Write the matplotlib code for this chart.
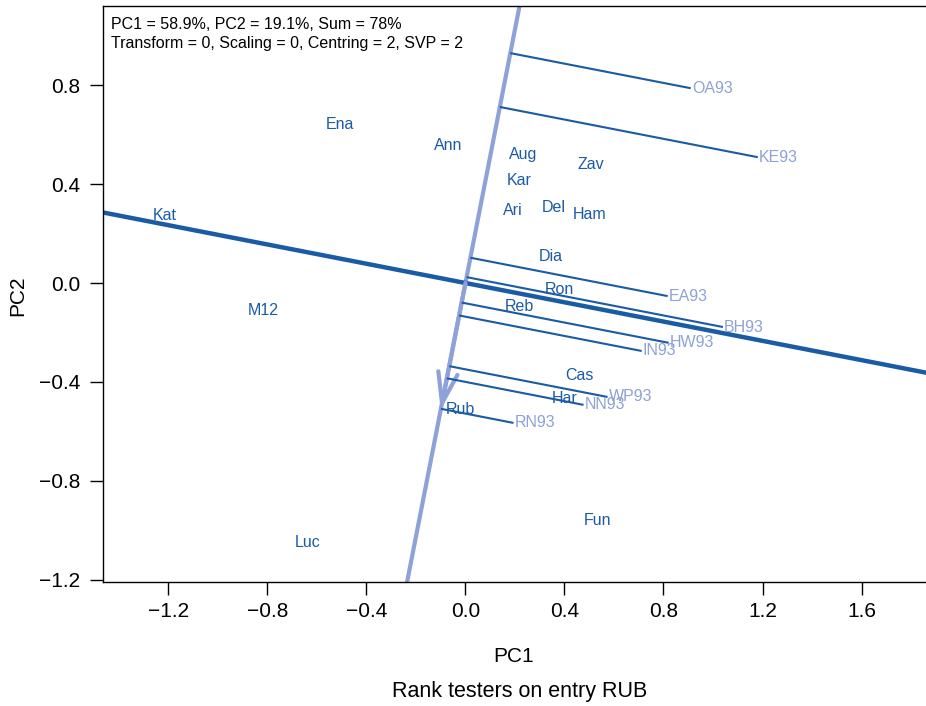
import numpy as np
import matplotlib
matplotlib.use('Agg')
import matplotlib.pyplot as plt
from matplotlib.ticker import FuncFormatter

plt.rcParams['font.family'] = ['Liberation Sans', 'DejaVu Sans']

# genotype (entry) label positions
entries = ['Ena', 'Ann', 'Aug', 'Zav', 'Kar', 'Ari', 'Del', 'Ham', 'Kat', 'M12',
           'Luc', 'Fun', 'Dia', 'Ron', 'Reb', 'Cas', 'Har', 'Rub']
entry_x = [-0.506, -0.070, 0.233, 0.506, 0.216, 0.193, 0.355, 0.503, -1.216, -0.816,
           -0.638, 0.533, 0.344, 0.380, 0.218, 0.461, 0.402, -0.020]
entry_y = [0.643, 0.558, 0.520, 0.481, 0.416, 0.292, 0.305, 0.278, 0.275, -0.113,
           -1.051, -0.962, 0.106, -0.025, -0.093, -0.375, -0.466, -0.510]

# tester (environment) vectors
testers = ['OA93', 'KE93', 'EA93', 'BH93', 'HW93', 'IN93', 'WP93', 'NN93', 'RN93']
tester_x = [0.910, 1.181, 0.817, 1.040, 0.821, 0.712, 0.574, 0.477, 0.194]
tester_y = [0.788, 0.509, -0.053, -0.178, -0.242, -0.275, -0.461, -0.493, -0.566]

# entry axis target (RUB)
rub_vec = (-0.100, -0.513)

dark = '#1a5ba6'
light = '#8ea1d8'

fig = plt.figure(figsize=(9.26, 7.06), dpi=100)
ax = fig.add_axes([0.1112, 0.1756, 0.8900, 0.8159])
ax.set_xlim(-1.4644, 1.865)
ax.set_ylim(-1.2096, 1.1206)

u = np.array(rub_vec) / np.hypot(*rub_vec)

# entry axis and its perpendicular through the origin
ax.axline((0, 0), rub_vec, color=light, lw=3, zorder=2)
ax.axline((0, 0), slope=-u[0] / u[1], color=dark, lw=3.2, zorder=2)
ax.annotate('', xy=rub_vec, xytext=(0, 0),
            arrowprops=dict(arrowstyle='->,head_length=2.2,head_width=0.7',
                            color=light, lw=3, shrinkA=0, shrinkB=0), zorder=3)

# projections of testers onto the entry axis
for name, tx, ty in zip(testers, tester_x, tester_y):
    d = tx * u[0] + ty * u[1]
    ax.plot([d * u[0], tx], [d * u[1], ty], color=dark, lw=1.5, zorder=3,
            solid_capstyle='butt')
    ax.text(tx + 0.005, ty, name, color=light, fontsize=11.5, ha='left', va='center',
            zorder=4)

for name, ex, ey in zip(entries, entry_x, entry_y):
    ax.text(ex, ey, name, color=dark, fontsize=11.5, ha='center', va='center', zorder=4)

fmt = FuncFormatter(lambda v, p: f'{v:.1f}'.replace('-', '\u2212'))
ax.set_xticks([-1.2, -0.8, -0.4, 0.0, 0.4, 0.8, 1.2, 1.6])
ax.set_yticks([-1.2, -0.8, -0.4, 0.0, 0.4, 0.8])
ax.xaxis.set_major_formatter(fmt)
ax.yaxis.set_major_formatter(fmt)
ax.tick_params(axis='both', direction='out', length=9.5, width=1.0, labelsize=15)
ax.tick_params(axis='x', pad=5)
ax.tick_params(axis='y', pad=7)
ax.spines['right'].set_visible(False)
for s in ['left', 'bottom', 'top']:
    ax.spines[s].set_linewidth(1.0)

ax.text(0.01, 0.960, 'PC1 = 58.9%, PC2 = 19.1%, Sum = 78%', transform=ax.transAxes,
        fontsize=11.5, ha='left', va='baseline')
ax.text(0.01, 0.9266, 'Transform = 0, Scaling = 0, Centring = 2, SVP = 2',
        transform=ax.transAxes, fontsize=11.5, ha='left', va='baseline')

fig.text(0.555, 1 - 662 / 706, 'PC1', fontsize=15, ha='center', va='baseline')
fig.text(0.561, 1 - 697 / 706, 'Rank testers on entry RUB', fontsize=15.5,
         ha='center', va='baseline')
fig.text(18 / 926, 1 - 296 / 706, 'PC2', fontsize=15, rotation=90,
         ha='center', va='center')

fig.savefig('out.png', dpi=100)
